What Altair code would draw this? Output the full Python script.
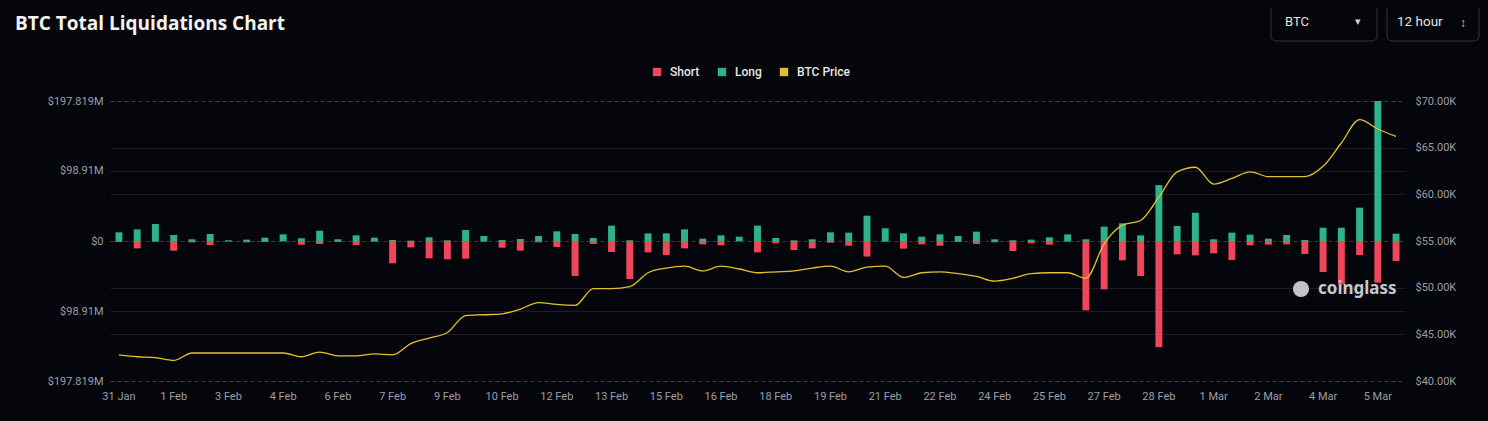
import json
import altair as alt
import pandas as pd

# ---------------- data ----------------
SLOTS = list(range(71))  # 12-hour slots, 31 Jan 00:00 .. 6 Mar 00:00
TICK_LABELS = ["31 Jan", "1 Feb", "3 Feb", "4 Feb", "6 Feb", "7 Feb", "9 Feb", "10 Feb",
               "12 Feb", "13 Feb", "15 Feb", "16 Feb", "18 Feb", "19 Feb", "21 Feb", "22 Feb",
               "24 Feb", "25 Feb", "27 Feb", "28 Feb", "1 Mar", "2 Mar", "4 Mar", "5 Mar"]

LONG_M = [12.3, 16.5, 24.0, 8.5, 2.4, 9.9, 1.0, 1.9, 4.7, 9.4, 3.8, 14.6, 2.4, 8.0, 4.7, 1.4, 0.5, 5.2,
          1.0, 15.5, 7.0, 1.4, 2.8, 7.0, 13.7, 9.9, 4.2, 21.7, 1.0, 10.8, 10.8, 16.5, 3.3, 8.0, 6.1, 21.7,
          4.2, 1.0, 2.4, 12.3, 11.8, 35.8, 17.9, 10.8, 6.1, 9.4, 7.0, 13.2, 2.4, 1.0, 1.9, 5.2, 9.4,
          2.4, 20.3, 25.0, 8.0, 79.0, 21.2, 40.0, 2.4, 11.8, 9.0, 3.3, 8.5, 1.4, 18.8, 18.8, 47.1, 197.819, 10.4]

SHORT_M = [1.5, 10.4, 1.0, 13.7, 1.9, 5.6, 0.8, 1.9, 1.4, 0.5, 5.2, 4.2, 1.4, 5.6, 0.9, 31.5, 9.0, 24.5,
           25.9, 25.0, 1.0, 9.4, 13.7, 1.9, 8.5, 49.5, 4.2, 15.5, 53.7, 16.0, 19.8, 10.4, 4.7, 6.1, 0.5, 16.0,
           3.3, 12.7, 10.4, 2.4, 6.6, 22.0, 1.0, 10.8, 4.7, 6.6, 1.4, 4.2, 1.9, 14.1, 3.3, 5.2, 0.9,
           98.0, 68.3, 27.3, 49.5, 150.0, 18.8, 20.3, 17.4, 26.8, 6.1, 5.2, 4.7, 18.4, 43.8, 61.2, 19.8, 58.9, 28.3]

PRICE_K = [42.8, 42.6, 42.5, 42.2, 43.0, 43.0, 43.0, 43.0, 43.0, 43.0, 42.6, 43.1, 42.7, 42.7, 42.9, 42.8, 44.0, 44.6,
           45.2, 47.0, 47.1, 47.2, 47.7, 48.4, 48.2, 48.1, 49.9, 49.9, 50.1, 51.6, 52.1, 52.3, 51.8, 52.3, 52.0, 51.6,
           51.7, 51.8, 52.1, 52.3, 51.7, 52.2, 52.3, 51.1, 51.6, 51.7, 51.5, 51.2, 50.7, 51.0, 51.5, 51.6, 51.6,
           51.0, 54.7, 56.7, 57.2, 59.7, 62.4, 62.9, 61.1, 61.7, 62.4, 61.9, 61.9, 61.9, 63.0, 65.5, 68.0, 67.0, 66.2]

SERIES = ["Short", "Long", "BTC Price"]
LIQ_TICKS = [-197.819, -98.91, 0, 98.91, 197.819]
PRICE_TICKS = [40, 45, 50, 55, 60, 65, 70]

# ---------------- style ----------------
RED, GREEN, YELLOW = "#f0465c", "#2db38a", "#e3c12e"
BG = "#05060b"
AXIS_LABEL = "#9d9da6"
FONT = "Roboto"
W, H = 1295, 280

bars = pd.DataFrame({
    "i": SLOTS * 2,
    "series": ["Long"] * len(SLOTS) + ["Short"] * len(SLOTS),
    "v": LONG_M + [-s for s in SHORT_M],
})
price = pd.DataFrame({"i": SLOTS, "p": PRICE_K})
one = pd.DataFrame({"k": [0]})

x_enc = alt.X(
    "i:O",
    scale=alt.Scale(paddingInner=0.62, paddingOuter=0.3),
    axis=alt.Axis(
        values=SLOTS[::3],
        labelExpr=json.dumps(TICK_LABELS) + "[floor(datum.value / 3)]",
        title=None, labelAngle=0, domain=False, ticks=False, grid=False,
        labelPadding=9, labelColor=AXIS_LABEL, labelFontSize=11, labelFont=FONT,
    ),
)

bar_layer = alt.Chart(bars).mark_bar().encode(
    x=x_enc,
    y=alt.Y(
        "v:Q", stack=None,
        scale=alt.Scale(domain=[-197.819, 197.819], nice=False),
        axis=alt.Axis(
            orient="left", values=LIQ_TICKS, title=None, domain=False, ticks=False,
            labelExpr="datum.value == 0 ? '$0' : '$' + format(abs(datum.value), '.6~r') + 'M'",
            labelPadding=7, labelColor=AXIS_LABEL, labelFontSize=11, labelFont=FONT,
            grid=True,
            gridDash={"condition": {"test": "abs(datum.value) > 150 || datum.value == 0", "value": [4, 3]}, "value": []},
            gridColor={"condition": {"test": "abs(datum.value) > 150 || datum.value == 0", "value": "#3b3b46"}, "value": "#1b1c24"},
            gridWidth=1,
        ),
    ),
    color=alt.Color(
        "series:N",
        scale=alt.Scale(domain=SERIES, range=[RED, GREEN, YELLOW]),
        legend=alt.Legend(
            orient="none", legendX=541, legendY=-35, direction="horizontal", title=None,
            symbolType="square", symbolSize=70, symbolStrokeWidth=0,
            labelColor="#e6e6e6", labelFontSize=12, labelFont=FONT, labelFontWeight=500,
            labelOffset=7, columnPadding=16, padding=0,
        ),
    ),
)

line_layer = alt.Chart(price).mark_line(strokeWidth=1.3, interpolate="monotone").encode(
    x=alt.X("i:O"),
    y=alt.Y(
        "p:Q",
        scale=alt.Scale(domain=[40, 70], nice=False, zero=False),
        axis=alt.Axis(
            orient="right", values=PRICE_TICKS, title=None, domain=False, ticks=False,
            labelExpr="'$' + format(datum.value, '.2f') + 'K'",
            labelPadding=10, labelColor=AXIS_LABEL, labelFontSize=11, labelFont=FONT,
            grid=True, gridColor="#1b1c24",
            gridOpacity={"condition": {"test": "datum.value == 40 || datum.value == 55 || datum.value == 70", "value": 0}, "value": 1},
        ),
    ),
    color=alt.value(YELLOW),
)


def txt(s, x, y, size, color, weight="normal", align="left", font=FONT):
    return alt.Chart(one).mark_text(
        align=align, baseline="middle", fontSize=size, fontWeight=weight, color=color, font=font
    ).encode(x=alt.value(x), y=alt.value(y), text=alt.value(s))


def box(x0, x1, y0, y1):
    return alt.Chart(one).mark_rect(
        fill=BG, stroke="#34353f", strokeWidth=1, cornerRadius=5
    ).encode(x=alt.value(x0), x2=alt.value(x1), y=alt.value(y0), y2=alt.value(y1))


title = txt("BTC Total Liquidations Chart", -95, -77, 19, "#f2f2f2", weight="bold", font="Open Sans")
box1 = box(1161, 1267, -96, -60)
box2 = box(1277, 1369, -96, -60)
b1t = txt("BTC", 1175, -79, 13, "#e2e2e2")
b1c = txt("▾", 1245, -79, 11, "#cfcfcf")
b2t = txt("12 hour", 1287, -79, 13.5, "#e2e2e2")
b2c = txt("↕", 1350, -78, 12, "#bdbdbd")
logo = alt.Chart(one).mark_point(filled=True, shape="circle", size=260, color="#c4c4c8", opacity=1).encode(
    x=alt.value(1191), y=alt.value(188)
)
wm = txt("coinglass", 1208, 188, 17, "#c8c8cc", weight="bold", font="Noto Sans")

chart = alt.layer(
    bar_layer, line_layer, logo, wm, title, box1, box2, b1t, b1c, b2t, b2c
).resolve_scale(y="independent").properties(
    width=W, height=H,
    autosize=alt.AutoSizeParams(type="none"),
    padding={"left": 102, "top": 93, "right": 75, "bottom": 28},
    background=BG,
).configure_view(stroke=None)

chart.save(
    "out.html",
    embed_options={"renderer": "svg", "actions": False,
                   "defaultStyle": "body { background: #05060b; }"},
)
